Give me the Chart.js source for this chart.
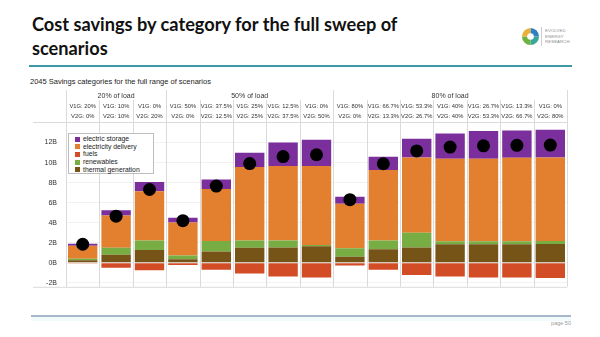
<!DOCTYPE html>
<html>
<head>
<meta charset="utf-8">
<script src="https://cdn.jsdelivr.net/npm/chart.js@4.4.0/dist/chart.umd.min.js"></script>
<style>
  body { margin: 0; width: 600px; height: 337px; background: #fff; position: relative; overflow: hidden; font-family: "Liberation Sans", Arial, sans-serif; }
  #title { position: absolute; left: 32px; top: 12px; font-family: Lato, sans-serif; font-weight: bold; font-size: 18.2px; line-height: 24px; color: #111; }
  #rule { position: absolute; left: 29px; top: 65px; width: 543px; height: 2px; background: #3b9aa6; }
  #subtitle { position: absolute; left: 30px; top: 77px; font-size: 7.5px; color: #222; }
  #logo { position: absolute; left: 521px; top: 27px; width: 19px; height: 19px; }
  #logoSep { position: absolute; left: 541px; top: 27px; width: 1px; height: 19px; background: #ccc; }
  #logoText { position: absolute; left: 545px; top: 28px; font-size: 4.3px; line-height: 5.6px; color: #8a8a8a; letter-spacing: 0.1px; }
  #wrap { position: absolute; left: 0; top: 88px; width: 600px; height: 212px; }
  #legend { position: absolute; left: 68px; top: 133px; width: 86px; height: 41px; border: 1px solid #bdbdbd; background: #fff; padding: 1px 0 0 6px; box-sizing: border-box; }
  #legend div { font-size: 6.8px; line-height: 7.7px; color: #222; white-space: nowrap; }
  #legend span { display: inline-block; width: 5px; height: 5px; margin-right: 3px; vertical-align: -0.5px; }
  #footRule { position: absolute; left: 31px; top: 315px; width: 540px; height: 2px; background: #a9b7cb; }
  #footBand { position: absolute; left: 31px; top: 317px; width: 540px; height: 4px; background: #f1fbfc; }
  #page { position: absolute; right: 29px; top: 320px; font-size: 5.5px; color: #9a9a9a; }
</style>
</head>
<body>
<div id="title">Cost savings by category for the full sweep of<br>scenarios</div>
<svg id="logo" viewBox="0 0 20 20">
  <path d="M10 10 L10 1 A9 9 0 0 1 19 10 Z" fill="#2f7fc1"/>
  <path d="M10 10 L19 10 A9 9 0 0 1 10 19 Z" fill="#3aa59a"/>
  <path d="M10 10 L10 19 A9 9 0 0 1 1 10 Z" fill="#6fb23f"/>
  <path d="M10 10 L1 10 A9 9 0 0 1 10 1 Z" fill="#e9b13a"/>
  <circle cx="10" cy="10" r="3.5" fill="#fff"/>
</svg>
<div id="logoSep"></div>
<div id="logoText">EVOLVED<br>ENERGY<br>RESEARCH</div>
<div id="rule"></div>
<div id="subtitle">2045 Savings categories for the full range of scenarios</div>
<div id="wrap"><canvas id="chart" width="600" height="212"></canvas></div>
<div id="legend"></div>
<div id="footRule"></div>
<div id="footBand"></div>
<div id="page">page 50</div>

<script>
// ===== Scenario columns =====
const loadGroups = ["20% of load", "50% of load", "80% of load"];
const groupSizes = [3, 5, 7];
const v1gLabels = ["V1G: 20%", "V1G: 10%", "V1G: 0%",
    "V1G: 50%", "V1G: 37.5%", "V1G: 25%", "V1G: 12.5%", "V1G: 0%",
    "V1G: 80%", "V1G: 66.7%", "V1G: 53.3%", "V1G: 40%", "V1G: 26.7%", "V1G: 13.3%", "V1G: 0%"];
const v2gLabels = ["V2G: 0%", "V2G: 10%", "V2G: 20%",
    "V2G: 0%", "V2G: 12.5%", "V2G: 25%", "V2G: 37.5%", "V2G: 50%",
    "V2G: 0%", "V2G: 13.3%", "V2G: 26.7%", "V2G: 40%", "V2G: 53.3%", "V2G: 66.7%", "V2G: 80%"];

// ===== Savings by category (billions) =====
const thermalGeneration = [0.25, 0.8, 1.28, 0.35, 1.12, 1.5, 1.53, 1.66, 0.59, 1.34, 1.53, 1.85, 1.85, 1.85, 1.86];
const renewables = [0.15, 0.7, 0.94, 0.37, 1.04, 0.72, 0.69, 0.1, 0.85, 0.88, 1.47, 0.3, 0.3, 0.3, 0.3];
const electricityDelivery = [1.3, 3.22, 4.93, 3.31, 5.21, 7.34, 7.43, 7.9, 4.46, 7.03, 7.5, 8.24, 8.24, 8.34, 8.34];
const electricStorage = [0.2, 0.53, 0.9, 0.47, 0.94, 1.41, 2.35, 2.63, 0.69, 1.34, 1.87, 2.5, 2.75, 2.7, 2.78];
const fuels = [-0.08, -0.5, -0.75, -0.22, -0.69, -1.06, -1.37, -1.47, -0.28, -0.69, -1.22, -1.37, -1.47, -1.47, -1.53];
const netSavings = [1.85, 4.65, 7.31, 4.2, 7.65, 9.9, 10.6, 10.78, 6.3, 9.88, 11.16, 11.55, 11.67, 11.72, 11.75];

const yTicks = [-2, 0, 2, 4, 6, 8, 10, 12];

const colors = {
    "electric storage": "#7a2f9c",
    "electricity delivery": "#e2802f",
    "fuels": "#d24d26",
    "renewables": "#78ad44",
    "thermal generation": "#765418"
};
const legendOrder = ["electric storage", "electricity delivery", "fuels", "renewables", "thermal generation"];

// ===== Legend box =====
const legendBox = document.getElementById("legend");
legendOrder.forEach(name => {
    const row = document.createElement("div");
    row.innerHTML = `<span style="background:${colors[name]}"></span>${name}`;
    legendBox.appendChild(row);
});

// ===== Header table + frame lines =====
const headerPlugin = {
    id: "scenarioHeader",
    beforeDatasetsDraw(chart) {
        const ctx = chart.ctx;
        const area = chart.chartArea;
        const n = v1gLabels.length;
        const colW = (area.right - area.left) / n;

        const groupEdges = [0];
        groupSizes.forEach(s => groupEdges.push(groupEdges[groupEdges.length - 1] + s));

        ctx.save();
        ctx.strokeStyle = "#dadada";
        ctx.lineWidth = 1;
        for (let i = 0; i <= n; i++) {
            const x = Math.round(area.left + i * colW) + 0.5;
            const top = groupEdges.includes(i) ? 2 : 12;
            ctx.beginPath();
            ctx.moveTo(x, top);
            ctx.lineTo(x, area.bottom);
            ctx.stroke();
        }
        // header bottom and plot bottom
        ctx.beginPath();
        ctx.moveTo(33, area.top + 0.5);
        ctx.lineTo(area.right, area.top + 0.5);
        ctx.moveTo(33, area.bottom + 0.5);
        ctx.lineTo(area.right, area.bottom + 0.5);
        ctx.stroke();

        ctx.fillStyle = "#333";
        ctx.textAlign = "center";
        ctx.textBaseline = "middle";
        ctx.font = "7px 'Liberation Sans', Arial, sans-serif";
        loadGroups.forEach((g, k) => {
            const x0 = area.left + groupEdges[k] * colW;
            const x1 = area.left + groupEdges[k + 1] * colW;
            ctx.fillText(g, (x0 + x1) / 2, 8.5);
        });
        ctx.font = "5.8px 'Liberation Sans', Arial, sans-serif";
        for (let i = 0; i < n; i++) {
            const cx = chart.scales.x.getPixelForValue(i);
            ctx.fillText(v1gLabels[i], cx, 18.7);
            ctx.fillText(v2gLabels[i], cx, 28.7);
        }
        ctx.restore();
    }
};

function barSet(label, data) {
    return {
        type: "bar",
        label: label,
        data: data,
        backgroundColor: colors[label],
        stack: "savings",
        order: 1,
        barPercentage: 0.88,
        categoryPercentage: 1.0
    };
}

const ctx = document.getElementById("chart").getContext("2d");
new Chart(ctx, {
    data: {
        labels: v1gLabels.map((v, i) => v + " / " + v2gLabels[i]),
        datasets: [
            barSet("thermal generation", thermalGeneration),
            barSet("renewables", renewables),
            barSet("electricity delivery", electricityDelivery),
            barSet("electric storage", electricStorage),
            barSet("fuels", fuels),
            {
                type: "line",
                label: "net",
                data: netSavings,
                stack: "net",
                order: 0,
                showLine: false,
                pointRadius: 6.5,
                pointBackgroundColor: "#000",
                pointBorderColor: "#000",
                pointBorderWidth: 0
            }
        ]
    },
    options: {
        responsive: false,
        animation: false,
        layout: { padding: { left: 0, right: 33, top: 34, bottom: 3 } },
        plugins: {
            legend: { display: false },
            tooltip: { enabled: false }
        },
        scales: {
            x: { stacked: true, display: false },
            y: {
                stacked: true,
                min: -2.4,
                max: 14.05,
                afterBuildTicks: s => { s.ticks = yTicks.map(v => ({ value: v })); },
                afterFit: s => { s.width = 66; },
                border: { display: false },
                grid: { color: "#f2f2f2", drawTicks: false },
                ticks: {
                    padding: 9,
                    color: "#333",
                    font: { size: 7, family: "'Liberation Sans', Arial, sans-serif" },
                    callback: v => v + "B"
                }
            }
        }
    },
    plugins: [headerPlugin]
});
</script>
</body>
</html>
